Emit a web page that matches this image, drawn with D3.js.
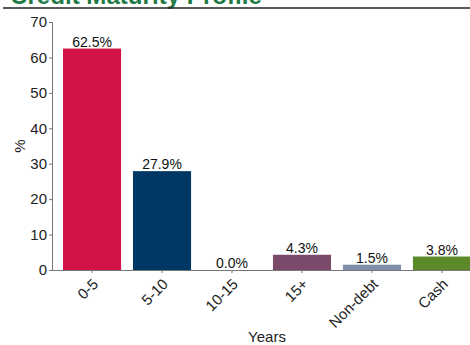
<!DOCTYPE html>
<html>
<head>
<meta charset="utf-8">
<script src="https://cdn.jsdelivr.net/npm/d3@7"></script>
<style>
  html, body { margin: 0; padding: 0; background: #fff; overflow: hidden; }
  svg { display: block; font-family: "Liberation Sans", Arial, sans-serif; }
</style>
</head>
<body>
<svg id="chart" width="470" height="345"></svg>
<script>
// Credit maturity profile: share of portfolio by years to maturity
const categories = ["0-5", "5-10", "10-15", "15+", "Non-debt", "Cash"];
const values = [62.5, 27.9, 0.0, 4.3, 1.5, 3.8];
const colors = ["#D31245", "#003764", "#8C2F5A", "#7B4A6B", "#7F8FA9", "#5C8A2A"];
const yTicks = [0, 10, 20, 30, 40, 50, 60, 70];
const title = "Credit Maturity Profile";

const FONT = "'Liberation Sans', Arial, sans-serif";
const svg = d3.select("#chart");
const margin = { left: 52, top: 22, bottom: 270 };

// Title band (runs off the top edge) with rule underneath
const titleText = svg.append("text")
  .attr("x", 10).attr("y", 3.5)
  .attr("font-size", 23).attr("font-weight", "bold")
  .attr("fill", "#1F7A45")
  .text(title);
const tw = titleText.node().getComputedTextLength();
if (tw > 0) titleText.attr("font-size", 23 * 252 / tw);
svg.append("line")
  .attr("x1", 3).attr("x2", 470).attr("y1", 8).attr("y2", 8)
  .attr("stroke", "#222").attr("stroke-width", 1.3);

const x = d3.scaleBand()
  .domain(categories)
  .range([margin.left, 482])
  .paddingInner(0.17)
  .paddingOuter(0.157);

const y = d3.scaleLinear()
  .domain([0, 70])
  .range([margin.bottom, margin.top]);

// Bars
svg.append("g").selectAll("rect")
  .data(categories)
  .join("rect")
  .attr("x", d => x(d))
  .attr("width", x.bandwidth())
  .attr("y", (d, i) => y(values[i]))
  .attr("height", (d, i) => y(0) - y(values[i]))
  .attr("fill", (d, i) => colors[i]);

// Value labels
svg.append("g").selectAll("text")
  .data(categories)
  .join("text")
  .attr("x", d => x(d) + x.bandwidth() / 2)
  .attr("y", (d, i) => y(values[i]) - 2)
  .attr("text-anchor", "middle")
  .attr("font-size", 14)
  .attr("fill", "#111")
  .text((d, i) => values[i].toFixed(1) + "%");

// Y axis
const yAxis = svg.append("g")
  .attr("transform", `translate(${margin.left},0)`)
  .call(d3.axisLeft(y).tickValues(yTicks).tickSize(3).tickSizeOuter(3).tickPadding(2));
yAxis.select(".domain").attr("stroke", "#777");
yAxis.selectAll(".tick line").attr("stroke", "#777");
yAxis.selectAll(".tick text")
  .attr("font-size", 15).attr("fill", "#222")
  .attr("font-family", FONT);

// X axis
const xAxis = svg.append("g")
  .attr("transform", `translate(0,${margin.bottom})`)
  .call(d3.axisBottom(x).tickSize(3).tickSizeOuter(0));
xAxis.select(".domain").attr("stroke", "#777").attr("d", `M${margin.left},0.5H482`);
xAxis.selectAll(".tick line").attr("stroke", "#777");
xAxis.selectAll(".tick text")
  .attr("font-size", 15).attr("fill", "#222")
  .attr("font-family", FONT)
  .attr("text-anchor", "end")
  .attr("x", 0).attr("y", 0).attr("dy", "0")
  .attr("transform", "translate(7,15) rotate(-45)");

// Axis titles
svg.append("text")
  .attr("x", 267).attr("y", 342)
  .attr("text-anchor", "middle")
  .attr("font-size", 15).attr("fill", "#222")
  .text("Years");
svg.append("text")
  .attr("transform", "translate(25,146) rotate(-90)")
  .attr("text-anchor", "middle")
  .attr("font-size", 15).attr("fill", "#222")
  .text("%");
</script>
</body>
</html>
